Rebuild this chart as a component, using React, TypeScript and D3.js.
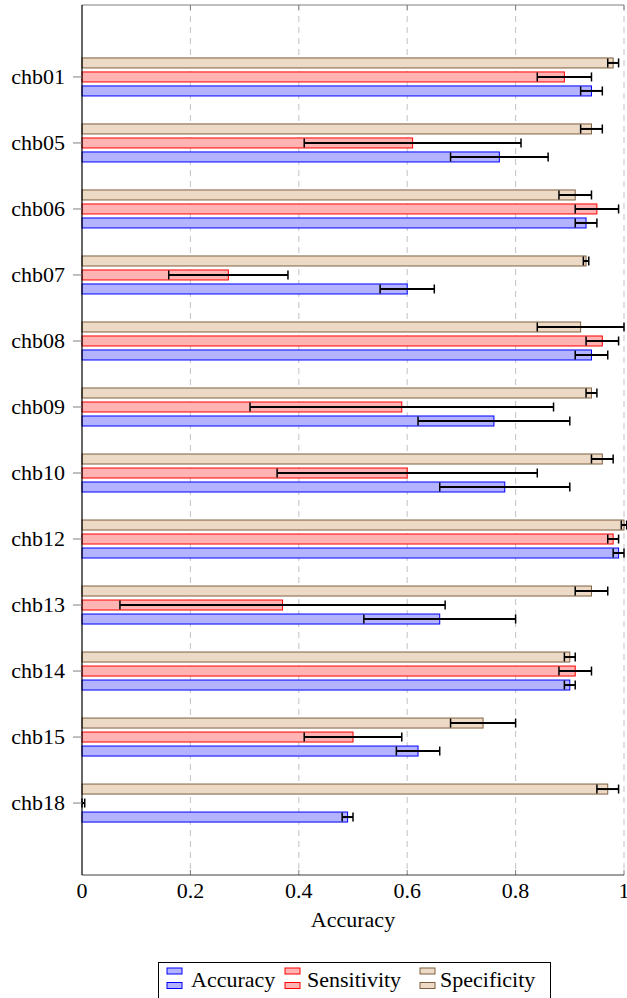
import React from "react";
import * as d3 from "d3";

const categories = ["chb01", "chb05", "chb06", "chb07", "chb08", "chb09", "chb10", "chb12", "chb13", "chb14", "chb15", "chb18"];
const accuracy = [0.94, 0.77, 0.93, 0.60, 0.94, 0.76, 0.78, 0.99, 0.66, 0.90, 0.62, 0.49];
const accuracyErr = [0.02, 0.09, 0.02, 0.05, 0.03, 0.14, 0.12, 0.01, 0.14, 0.01, 0.04, 0.01];
const sensitivity = [0.89, 0.61, 0.95, 0.27, 0.96, 0.59, 0.60, 0.98, 0.37, 0.91, 0.50, 0.0];
const sensitivityErr = [0.05, 0.20, 0.04, 0.11, 0.03, 0.28, 0.24, 0.01, 0.30, 0.03, 0.09, 0.005];
const specificity = [0.98, 0.94, 0.91, 0.93, 0.92, 0.94, 0.96, 1.0, 0.94, 0.90, 0.74, 0.97];
const specificityErr = [0.01, 0.02, 0.03, 0.005, 0.08, 0.01, 0.02, 0.005, 0.03, 0.01, 0.06, 0.02];
const xTicks = [0, 0.2, 0.4, 0.6, 0.8, 1];
const xTickLabels = ["0", "0.2", "0.4", "0.6", "0.8", "1"];
const xLabel = "Accuracy";

const series = [
  { name: "Accuracy", values: accuracy, errs: accuracyErr, fill: "#b3b3ff", stroke: "#0000ff", offset: 14 },
  { name: "Sensitivity", values: sensitivity, errs: sensitivityErr, fill: "#ffb3b3", stroke: "#ff0000", offset: 0 },
  { name: "Specificity", values: specificity, errs: specificityErr, fill: "#ecd9c6", stroke: "#7f5f3f", offset: -14 },
];

const W = 627;
const H = 998;
const left = 82;
const right = 624;
const top = 5;
const bottom = 875;
const font = '"Liberation Serif", "DejaVu Serif", serif';
const ts: React.CSSProperties = { fontFamily: font, fontSize: 22 };

export default function App() {
  const x = d3.scaleLinear().domain([0, 1]).range([left, right]);
  const y = d3.scalePoint<string>().domain(categories).range([top, bottom]).padding(1.09);
  const barH = 10;
  const capH = 9;

  const legendItems = [
    { s: series[0], ix: 167, tx: 191 },
    { s: series[1], ix: 285, tx: 307 },
    { s: series[2], ix: 420, tx: 440 },
  ];

  return (
    <svg width={W} height={H} style={{ position: "absolute", left: 0, top: 0, background: "#fff" }}>
      {xTicks.filter((t) => t > 0).map((t) => (
        <line key={"g" + t} x1={x(t)} x2={x(t)} y1={top} y2={bottom} stroke="#c8c8c8" strokeWidth={1.1} strokeDasharray="6,5" />
      ))}
      {xTicks.filter((t) => t > 0).map((t) => (
        <g key={"t" + t}>
          <line x1={x(t)} x2={x(t)} y1={top} y2={top + 5} stroke="#808080" strokeWidth={1} />
          <line x1={x(t)} x2={x(t)} y1={bottom} y2={bottom - 5} stroke="#808080" strokeWidth={1} />
        </g>
      ))}
      {series.map((s) =>
        categories.map((c, i) => {
          const cy = (y(c) as number) + s.offset;
          return (
            <rect key={s.name + c} x={x(0)} y={cy - barH / 2} width={Math.max(0, x(s.values[i]) - x(0))} height={barH}
              fill={s.fill} stroke={s.stroke} strokeWidth={1} />
          );
        })
      )}
      {series.map((s) =>
        categories.map((c, i) => {
          const cy = (y(c) as number) + s.offset;
          const lo = Math.max(left, x(s.values[i] - s.errs[i]));
          const hi = x(s.values[i] + s.errs[i]);
          return (
            <g key={"e" + s.name + c} stroke="#000">
              <line x1={lo} x2={hi} y1={cy} y2={cy} strokeWidth={2} />
              <line x1={lo} x2={lo} y1={cy - capH / 2} y2={cy + capH / 2} strokeWidth={1.5} />
              <line x1={hi} x2={hi} y1={cy - capH / 2} y2={cy + capH / 2} strokeWidth={1.5} />
            </g>
          );
        })
      )}
      <line x1={left} x2={right} y1={top} y2={top} stroke="#808080" strokeWidth={1.2} />
      <line x1={left} x2={right} y1={bottom} y2={bottom} stroke="#404040" strokeWidth={1.2} />
      <line x1={left} x2={left} y1={top} y2={bottom} stroke="#000" strokeWidth={1.2} />
      {categories.map((c) => (
        <g key={"y" + c}>
          <line x1={left - 9} x2={left} y1={y(c) as number} y2={y(c) as number} stroke="#808080" strokeWidth={1} />
          <text x={65} y={(y(c) as number) + 7} textAnchor="end" style={ts} fill="#000">{c}</text>
        </g>
      ))}
      {xTicks.map((t, i) => (
        <text key={"xl" + t} x={x(t)} y={898} textAnchor="middle" style={ts} fill="#000">{xTickLabels[i]}</text>
      ))}
      <text x={(left + right) / 2} y={927} textAnchor="middle" style={ts} fill="#000">{xLabel}</text>
      <rect x={158.5} y={962.5} width={392} height={50} fill="#fff" stroke="#000" strokeWidth={1} />
      {legendItems.map(({ s, ix, tx }) => (
        <g key={"lg" + s.name}>
          <rect x={ix} y={968} width={15} height={6} fill={s.fill} stroke={s.stroke} strokeWidth={1} />
          <rect x={ix} y={982.5} width={15} height={6} fill={s.fill} stroke={s.stroke} strokeWidth={1} />
          <text x={tx} y={987} style={ts} fill="#000">{s.name}</text>
        </g>
      ))}
    </svg>
  );
}
